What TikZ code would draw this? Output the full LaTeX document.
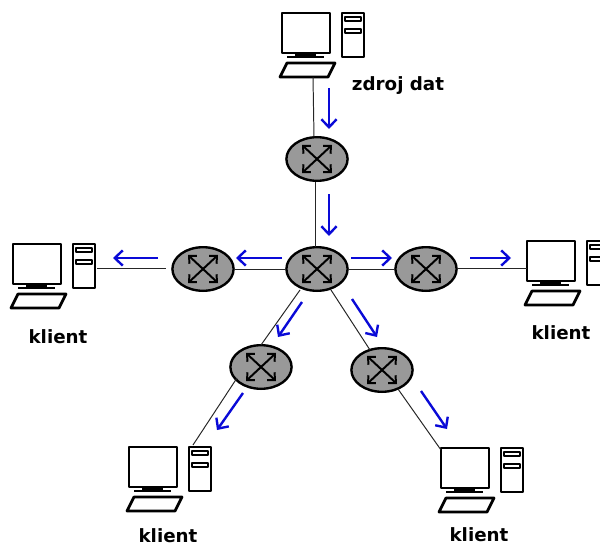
\documentclass[tikz,border=0pt]{standalone}
\usepackage{fontspec}
\setmainfont{DejaVu Sans}
\usetikzlibrary{shapes.geometric, arrows.meta}
\definecolor{flowblue}{RGB}{10,10,215}
\definecolor{routergray}{RGB}{153,153,153}

\begin{document}
\begin{tikzpicture}[
    x=0.025cm, y=-0.025cm,
    router/.style={ellipse, draw=black, fill=routergray, line width=1.7pt, minimum width=1.53cm, minimum height=1.09cm, inner sep=0pt,
        path picture={
            \draw[cross] ([shift={(-15,-14)}]path picture bounding box.center) -- ([shift={(15,14)}]path picture bounding box.center);
            \draw[cross] ([shift={(-15,14)}]path picture bounding box.center) -- ([shift={(15,-14)}]path picture bounding box.center);
        }},
    cross/.style={{Straight Barb[length=1.4mm, width=2.7mm]}-{Straight Barb[length=1.4mm, width=2.7mm]}, line width=1.4pt},
    link/.style={draw=black!85, line width=0.7pt},
    flow/.style={-{Straight Barb[length=2mm, width=3.8mm]}, flowblue, line width=1.7pt},
    label/.style={font=\bfseries\fontsize{13}{15}\selectfont, inner sep=0pt},
    part/.style={draw=black, line width=2pt, line join=round, fill=white},
    computer/.pic={
        \draw[part] (0,0) rectangle (48,40);
        \draw[part, fill=black, line width=1pt] (14,41) rectangle (33,44);
        \draw[part, line width=1.7pt] (5,44) -- (42,44);
        \draw[part] (5,50) -- (53,50) -- (46,64) -- (-2,64) -- cycle;
        \draw[part] (60,0) rectangle (82,44);
        \draw[part, line width=1.5pt] (63,4) rectangle (79,8);
        \draw[part, line width=1.5pt] (63,16) rectangle (79,20);
        \coordinate (-key) at (31,64);
        \coordinate (-screen) at (0,27);
    }
]
    \clip (0,0) rectangle (600,546);

    % Computers
    \pic (src) at (282,13) {computer};
    \pic (left) at (13,244) {computer};
    \pic (right) at (527,241) {computer};
    \pic (botleft) at (129,447) {computer};
    \pic (botright) at (441,448) {computer};

    % Routers
    \node[router] (rtop) at (317,159) {};
    \node[router] (rmid) at (317,269) {};
    \node[router] (rleft) at (203,269) {};
    \node[router] (rright) at (426,269) {};
    \node[router] (rbotl) at (261,367) {};
    \node[router] (rbotr) at (382,370) {};

    % Free ends of the links, which stop short of the parts
    \coordinate (srcend) at (314,137);
    \coordinate (rtopout) at (315,182);
    \coordinate (rmidin) at (315,247);
    \coordinate (leftend) at (97,268);
    \coordinate (rleftend) at (166,268);
    \coordinate (rightend) at (457,268);
    \coordinate (botlend) at (193,445);
    \coordinate (botrend) at (441,450);
    \coordinate (rbotlin) at (261,345);
    \coordinate (rbotrin) at (370,350);
    \coordinate (rbotlout) at (237,378);
    \coordinate (rbotrout) at (398,389);
    \coordinate (rmidbl) at (300,290);
    \coordinate (rmidbr) at (331,290);

    % Links
    \draw[link] (src-key) -- (srcend);
    \draw[link] (rtopout) -- (rmidin);
    \draw[link] (leftend) -- (rleftend);
    \draw[link] (rleft.east) -- (rmid.west);
    \draw[link] (rmid.east) -- (rright.west);
    \draw[link] (rightend) -- (right-screen);
    \draw[link] (rmidbl) -- (rbotlin);
    \draw[link] (rmidbr) -- (rbotrin);
    \draw[link] (rbotlout) -- (botlend);
    \draw[link] (rbotrout) -- (botrend);

    % Direction of the data
    \draw[flow] (329,88) -- (329,129);
    \draw[flow] (329,194) -- (329,236);
    \draw[flow] (282,258) -- (236,258);
    \draw[flow] (158,258) -- (113,258);
    \draw[flow] (351,258) -- (392,258);
    \draw[flow] (470,258) -- (511,258);
    \draw[flow] (302,302) -- (278,337);
    \draw[flow] (352,299) -- (377,337);
    \draw[flow] (243,393) -- (217,430);
    \draw[flow] (421,391) -- (447,429);

    % Labels
    \node[label] (srclabel) at (398,86) {zdroj dat};
    \node[label] (leftlabel) at (58,337) {klient};
    \node[label] (rightlabel) at (561,333) {klient};
    \node[label] (botllabel) at (168,536) {klient};
    \node[label] (botrlabel) at (479,535) {klient};
\end{tikzpicture}
\end{document}
